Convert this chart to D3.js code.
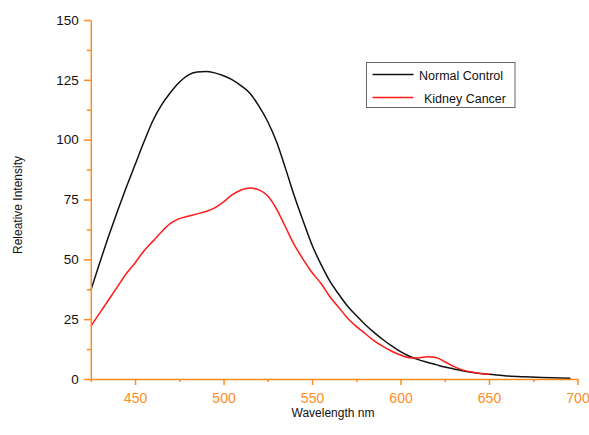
<!DOCTYPE html>
<html>
<head>
<meta charset="utf-8">
<script src="https://cdn.jsdelivr.net/npm/d3@7"></script>
<style>
  body { margin: 0; background: #fff; }
  svg { display: block; font-family: Arial, "Liberation Sans", sans-serif; }
</style>
</head>
<body>
<svg width="589" height="435"></svg>
<script>
// wavelength (nm) and intensity for each series
var normalWl = [425, 430, 435, 440, 445, 450, 455, 460, 465, 470, 475, 480, 485, 490, 495, 500,
  505, 510, 515, 520, 525, 530, 535, 540, 545, 550, 555, 560, 565, 570, 575, 580, 585, 590,
  595, 600, 605, 610, 615, 620, 625, 630, 635, 640, 645, 650, 660, 670, 680, 690, 696];
var normalVal = [37, 48.5, 59.5, 70, 80, 89.5, 99, 107.8, 114.5, 119.7, 124, 127, 128.3, 128.5, 127.9, 126.7,
  125, 122.5, 119.3, 114, 107.5, 99, 88, 76.5, 66, 56, 48, 41, 35.5, 30.5, 26.5, 22.8, 19.5, 16.5,
  13.8, 11.4, 9.5, 8.1, 7, 6, 5, 4.2, 3.4, 2.8, 2.3, 2, 1.3, 0.9, 0.6, 0.4, 0.3];

var cancerWl = [425, 430, 435, 440, 445, 450, 455, 460, 465, 470, 475, 480, 485, 490, 495, 500,
  505, 510, 515, 520, 525, 530, 535, 540, 545, 550, 555, 560, 565, 570, 575, 580, 585, 590,
  595, 600, 605, 610, 615, 620, 625, 630, 635, 640, 645, 650];
var cancerVal = [22, 27.5, 33, 38.5, 44, 48.5, 53.5, 57.5, 61.5, 65, 67, 68, 69, 70, 71.5, 74,
  77, 79, 79.8, 79, 76.5, 71, 63.5, 56, 50, 44.5, 40, 34.5, 30, 25.5, 22, 19, 16, 13.6,
  11.6, 10, 8.9, 8.8, 9.3, 9, 7.2, 5.3, 3.8, 2.9, 2.3, 2];

var xMajor = [450, 500, 550, 600, 650, 700];
var xMinor = [425, 475, 525, 575, 625, 675];
var yMajor = [0, 25, 50, 75, 100, 125, 150];
var yMinor = [12.5, 37.5, 62.5, 87.5, 112.5, 137.5];

var series = [
  { name: "Normal Control", wl: normalWl, val: normalVal, color: "#111" },
  { name: "Kidney Cancer", wl: cancerWl, val: cancerVal, color: "#ff1a1a" }
];

var orange = "#ff8c1e";
var svg = d3.select("svg");

var x = d3.scaleLinear().domain([425, 700]).range([90.8, 577.5]);
var y = d3.scaleLinear().domain([0, 150]).range([379, 20]);

// curves
var line = d3.line()
  .x(function(d) { return x(d[0]); })
  .y(function(d) { return y(d[1]); })
  .curve(d3.curveMonotoneX);

series.forEach(function(s) {
  svg.append("path")
    .datum(d3.zip(s.wl, s.val))
    .attr("fill", "none")
    .attr("stroke", s.color)
    .attr("stroke-width", 1.5)
    .attr("d", line);
});

// x axis
var gx = svg.append("g").attr("transform", "translate(0," + y(0) + ")");
gx.call(d3.axisBottom(x).tickValues(xMajor).tickSize(6).tickSizeOuter(0).tickPadding(8));
gx.append("g").call(d3.axisBottom(x).tickValues(xMinor).tickSize(3).tickFormat(""))
  .select(".domain").remove();
gx.selectAll("line, path").attr("stroke", orange).attr("stroke-width", 1.5);
gx.selectAll("text").attr("fill", orange).style("font-size", "14px").style("font-family", "Arial, 'Liberation Sans', sans-serif");

// y axis
var gy = svg.append("g").attr("transform", "translate(" + x(425) + ",0)");
gy.call(d3.axisLeft(y).tickValues(yMajor).tickSize(7).tickSizeOuter(0).tickPadding(5));
gy.append("g").call(d3.axisLeft(y).tickValues(yMinor).tickSize(4).tickFormat(""))
  .select(".domain").remove();
gy.selectAll("line, path").attr("stroke", orange).attr("stroke-width", 1.5);
gy.selectAll("text").attr("fill", "#111").style("font-size", "13.5px").style("font-family", "Arial, 'Liberation Sans', sans-serif");

// axis titles
svg.append("text")
  .attr("x", 333).attr("y", 417)
  .attr("text-anchor", "middle")
  .style("font-size", "12px")
  .attr("fill", "#111")
  .text("Wavelength nm");

svg.append("text")
  .attr("transform", "translate(22,205) rotate(-90)")
  .attr("text-anchor", "middle")
  .style("font-size", "12px")
  .attr("fill", "#111")
  .text("Releative Intensity");

// legend
var lg = svg.append("g");
lg.append("rect")
  .attr("x", 366.5).attr("y", 62.5)
  .attr("width", 148.5).attr("height", 45)
  .attr("fill", "#fff").attr("stroke", "#666").attr("stroke-width", 1);

series.forEach(function(s, i) {
  var ly = 74.5 + i * 23;
  lg.append("line")
    .attr("x1", 372.5).attr("x2", 413.5)
    .attr("y1", ly).attr("y2", ly)
    .attr("stroke", s.color).attr("stroke-width", 1.5);
  lg.append("text")
    .attr("x", i === 0 ? 419 : 424).attr("y", ly + 5)
    .style("font-size", "12.5px")
    .attr("fill", "#111")
    .text(s.name);
});
</script>
</body>
</html>
